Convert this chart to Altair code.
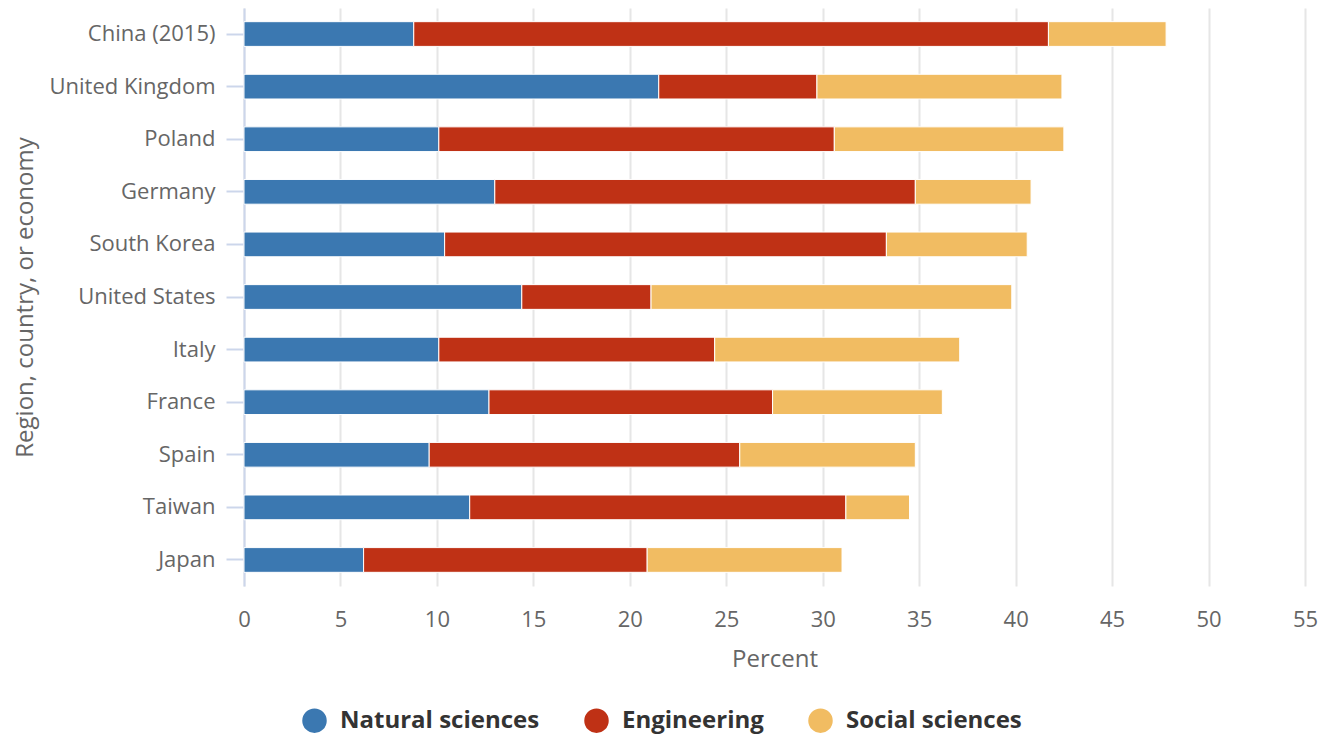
import altair as alt
import pandas as pd

countries = ["China (2015)", "United Kingdom", "Poland", "Germany", "South Korea",
             "United States", "Italy", "France", "Spain", "Taiwan", "Japan"]
natural = [8.8, 21.5, 10.1, 13.0, 10.4, 14.4, 10.1, 12.7, 9.6, 11.7, 6.2]
engineering = [32.9, 8.2, 20.5, 21.8, 22.9, 6.7, 14.3, 14.7, 16.1, 19.5, 14.7]
social = [6.1, 12.7, 11.9, 6.0, 7.3, 18.7, 12.7, 8.8, 9.1, 3.3, 10.1]
fields = ["Natural sciences", "Engineering", "Social sciences"]
colors = ["#3b78b1", "#bf3115", "#f1bc62"]

rows = []
for i, c in enumerate(countries):
    for k, (f, vals) in enumerate(zip(fields, [natural, engineering, social])):
        rows.append({"country": c, "field": f, "value": vals[i], "order": k})
df = pd.DataFrame(rows)

font = "Open Sans"

chart = alt.Chart(df).mark_bar(stroke="white", strokeWidth=1).encode(
    y=alt.Y("country:N", sort=countries,
            title="Region, country, or economy",
            scale=alt.Scale(paddingInner=0.53, paddingOuter=0.26),
            axis=alt.Axis(domainColor="#ccd6eb", domainWidth=2, tickColor="#ccd6eb",
                          tickWidth=2, tickSize=18, labelPadding=11, labelFontSize=22,
                          labelColor="#666666", labelFont=font, titleFont=font,
                          titleFontSize=24, titleColor="#666666", titleFontWeight="normal",
                          titlePadding=12, grid=False)),
    x=alt.X("value:Q", stack="zero", title="Percent",
            scale=alt.Scale(domain=[0, 55], nice=False),
            axis=alt.Axis(values=list(range(0, 56, 5)), domain=False, ticks=False,
                          labelFlush=False,
                          gridColor="#e6e6e6", gridWidth=2, labelPadding=23,
                          labelFontSize=22, labelColor="#666666", labelFont=font,
                          titleFont=font, titleFontSize=24, titleColor="#666666",
                          titleFontWeight="normal", titlePadding=17)),
    color=alt.Color("field:N", sort=fields,
                    scale=alt.Scale(domain=fields, range=colors),
                    legend=alt.Legend(title=None, orient="none", direction="horizontal",
                                      legendX=58, legendY=700, symbolType="circle",
                                      symbolSize=600, symbolStrokeWidth=0,
                                      labelFontSize=24, labelFontWeight="bold",
                                      labelColor="#333333", labelFont=font,
                                      labelLimit=400,
                                      columnPadding=44, labelOffset=13)),
    order=alt.Order("order:Q"),
).properties(
    width=1061, height=578,
    padding={"left": 236, "top": 0, "right": 14, "bottom": 148},
    autosize=alt.AutoSizeParams(type="none"),
).configure_view(stroke=None)

chart.save("out.html", embed_options={"renderer": "svg", "actions": False})
